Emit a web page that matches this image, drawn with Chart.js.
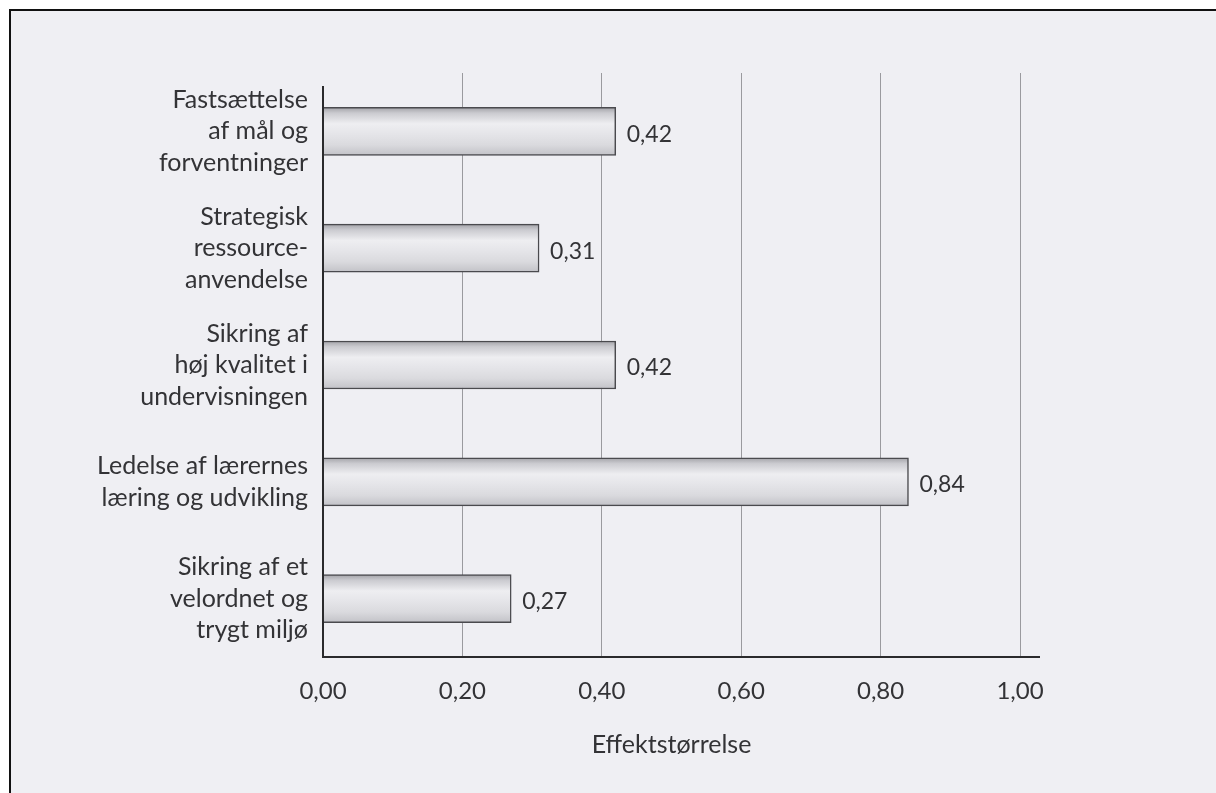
<!DOCTYPE html>
<html lang="da">
<head>
<meta charset="utf-8">
<title>Effektstørrelse</title>
<script src="https://cdn.jsdelivr.net/npm/chart.js@4/dist/chart.umd.min.js"></script>
<style>
  html, body { margin: 0; padding: 0; background: #ffffff; }
  #page {
    position: absolute; left: 9px; top: 9px; right: 0; bottom: 0;
    border-top: 2px solid #111; border-left: 2px solid #111;
    background: #efeff3;
  }
  #wrap { position: absolute; left: 0; top: 0; width: 1216px; height: 793px; }
</style>
</head>
<body>
<div id="page"></div>
<div id="wrap"><canvas id="chart" width="1216" height="793"></canvas></div>
<script>
// Leadership dimensions (multi-line category labels)
const categories = [
  ["Fastsættelse", "af mål og", "forventninger"],
  ["Strategisk", "ressource-", "anvendelse"],
  ["Sikring af", "høj kvalitet i", "undervisningen"],
  ["Ledelse af lærernes", "læring og udvikling"],
  ["Sikring af et", "velordnet og", "trygt miljø"]
];

// Effect sizes per dimension
const effectSizes = [0.42, 0.31, 0.42, 0.84, 0.27];

// Labels for the value axis (Danish decimal comma)
const tickLabels = ["0,00", "0,20", "0,40", "0,60", "0,80", "1,00"];

const axisTitle = "Effektstørrelse";

const FONT = "Lato, 'Open Sans', 'DejaVu Sans', sans-serif";
const INK = "#333336";

const fmt = v => v.toFixed(2).replace(".", ",");

// Value labels to the right of each bar
const valueLabels = {
  id: "valueLabels",
  afterDatasetsDraw(chart) {
    const { ctx } = chart;
    const meta = chart.getDatasetMeta(0);
    ctx.save();
    ctx.font = "23px " + FONT;
    ctx.fillStyle = INK;
    ctx.textAlign = "left";
    ctx.textBaseline = "middle";
    meta.data.forEach((bar, i) => {
      ctx.fillText(fmt(chart.data.datasets[0].data[i]), bar.x + 11, bar.y + 3);
    });
    ctx.restore();
  }
};

// Axis lines: the category axis starts a little below the plot top,
// the value axis runs on past the last gridline
const axisLines = {
  id: "axisLines",
  afterDatasetsDraw(chart) {
    const { ctx, chartArea: a } = chart;
    ctx.save();
    ctx.strokeStyle = "#2a2a2c";
    ctx.lineWidth = 2;
    ctx.beginPath();
    ctx.moveTo(a.left, a.top + 13);
    ctx.lineTo(a.left, a.bottom);
    ctx.lineTo(a.right + 20, a.bottom);
    ctx.stroke();
    ctx.restore();
  }
};

// Cylindrical grey shading across each bar
function barFill(context) {
  const chart = context.chart;
  const yScale = chart.scales.y;
  const yc = yScale ? yScale.getPixelForValue(context.dataIndex) : NaN;
  if (!isFinite(yc)) return "#dcdce0";
  const h = 48;
  const g = chart.ctx.createLinearGradient(0, yc - h / 2, 0, yc + h / 2);
  g.addColorStop(0.00, "#a2a2a7");
  g.addColorStop(0.12, "#cbcbd0");
  g.addColorStop(0.34, "#eeeef1");
  g.addColorStop(0.55, "#e5e5e9");
  g.addColorStop(0.78, "#dadade");
  g.addColorStop(1.00, "#c2c2c7");
  return g;
}

new Chart(document.getElementById("chart"), {
  type: "bar",
  data: {
    labels: categories,
    datasets: [{
      data: effectSizes,
      backgroundColor: barFill,
      borderColor: "#4a4a4e",
      borderWidth: 1.5,
      barThickness: 48
    }]
  },
  options: {
    indexAxis: "y",
    responsive: false,
    animation: false,
    layout: { padding: { top: 73, right: 196, bottom: 0, left: 0 } },
    plugins: {
      legend: { display: false },
      tooltip: { enabled: false }
    },
    scales: {
      x: {
        type: "linear",
        min: 0,
        max: 1,
        afterBuildTicks(scale) {
          scale.ticks = tickLabels.map((_, i) => ({ value: i * 0.2 }));
        },
        afterFit(scale) { scale.height = 136; },
        grid: {
          display: true,
          color: ctx => (ctx.index === 0 ? "rgba(0,0,0,0)" : "#9a9a9e"),
          lineWidth: 1,
          drawTicks: false
        },
        border: { display: false },
        ticks: {
          padding: 20,
          color: INK,
          font: { family: FONT, size: 24 },
          callback: (v, i) => tickLabels[i]
        },
        title: {
          display: true,
          text: axisTitle,
          color: INK,
          font: { family: FONT, size: 25 },
          padding: { top: 0, bottom: 33 }
        }
      },
      y: {
        afterFit(scale) { scale.width = 323; },
        grid: { display: false, drawTicks: false },
        border: { display: false },
        ticks: {
          padding: 15,
          color: INK,
          font: { family: FONT, size: 25, lineHeight: 1.26 }
        }
      }
    }
  },
  plugins: [valueLabels, axisLines]
});
</script>
</body>
</html>
